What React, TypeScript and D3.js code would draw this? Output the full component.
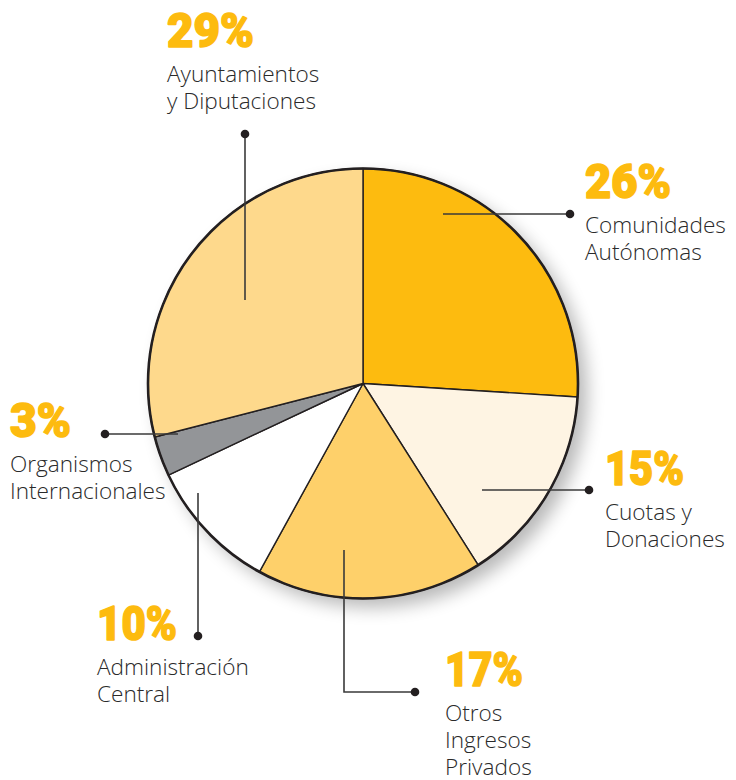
import React from "react";
import * as d3 from "d3";

const categories = [
  "Comunidades Autónomas",
  "Cuotas y Donaciones",
  "Otros Ingresos Privados",
  "Administración Central",
  "Organismos Internacionales",
  "Ayuntamientos y Diputaciones",
];
const values = [26, 15, 17, 10, 3, 29];
const labelLines = [
  ["Comunidades", "Autónomas"],
  ["Cuotas y", "Donaciones"],
  ["Otros", "Ingresos", "Privados"],
  ["Administración", "Central"],
  ["Organismos", "Internacionales"],
  ["Ayuntamientos", "y Diputaciones"],
];
const colors = ["#FDBB0F", "#FEF4E3", "#FED06A", "#FFFFFF", "#939598", "#FED98C"];

// layout (label anchor, leader line polyline, percent width)
const labelPos = [
  { x: 585, y: 198, w: 87 },
  { x: 605, y: 485, w: 80 },
  { x: 445, y: 686, w: 79 },
  { x: 97, y: 640, w: 81 },
  { x: 10, y: 437, w: 62 },
  { x: 167, y: 47, w: 88 },
];
const leaders: [number, number][][] = [
  [[443, 214], [570, 214]],
  [[482, 490], [589, 490]],
  [[344, 550], [344, 692], [415, 692]],
  [[198, 493], [198, 636]],
  [[178, 434], [105, 434]],
  [[245, 300], [245, 134]],
];

const W = 736;
const H = 780;
const cx = 363;
const cy = 383.5;
const R = 215;

export default function App() {
  const pie = d3
    .pie<number>()
    .sort(null)
    .value((d) => d)
    .startAngle(0)
    .endAngle(Math.PI * 2);
  const arcs = pie(values);
  const arc = d3.arc<d3.PieArcDatum<number>>().innerRadius(0).outerRadius(R);
  const line = d3.line();

  return (
    <svg
      width={W}
      height={H}
      style={{ position: "absolute", left: 0, top: 0, background: "#fff" }}
    >
      <defs>
        <filter id="shadow" x="-20%" y="-20%" width="140%" height="140%">
          <feGaussianBlur stdDeviation="9" />
        </filter>
      </defs>
      <circle cx={cx + 9} cy={cy + 9} r={R} fill="#000" opacity={0.28} filter="url(#shadow)" />
      <g transform={`translate(${cx},${cy})`}>
        {arcs.map((a, i) => (
          <path
            key={categories[i]}
            d={arc(a) || ""}
            fill={colors[i]}
            stroke="#231F20"
            strokeWidth={1.4}
            strokeLinejoin="round"
          />
        ))}
        <circle r={R} fill="none" stroke="#231F20" strokeWidth={2.6} />
      </g>
      {leaders.map((pts, i) => {
        const end = pts[pts.length - 1];
        return (
          <g key={"l" + i}>
            <path d={line(pts) || ""} fill="none" stroke="#3a3a3a" strokeWidth={1.6} />
            <circle cx={end[0]} cy={end[1]} r={4.3} fill="#231F20" />
          </g>
        );
      })}
      {labelPos.map((p, i) => (
        <g key={"t" + i}>
          <text
            x={p.x}
            y={p.y}
            fontFamily="Roboto, Lato, 'Open Sans', sans-serif"
            fontWeight={900}
            fontSize={48}
            fill="#FDBB0F"
            stroke="#FDBB0F"
            strokeWidth={1.6}
            strokeLinejoin="round"
            textLength={p.w - 1}
            lengthAdjust="spacingAndGlyphs"
          >
            {values[i] + "%"}
          </text>
          {labelLines[i].map((t, j) => (
            <text
              key={j}
              x={p.x}
              y={p.y + 35 + j * 27}
              fontFamily="'Open Sans', 'Noto Sans', sans-serif"
              fontWeight={300}
              fontSize={22.6}
              fill="#2a2a2a"
            >
              {t}
            </text>
          ))}
        </g>
      ))}
    </svg>
  );
}
